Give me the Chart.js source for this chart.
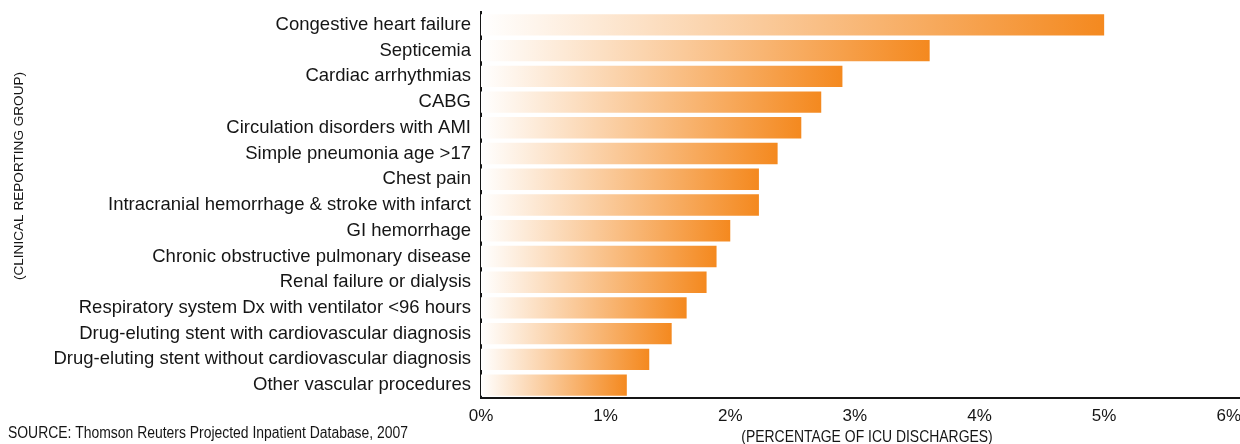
<!DOCTYPE html>
<html>
<head>
<meta charset="utf-8">
<script src="https://cdn.jsdelivr.net/npm/chart.js@4/dist/chart.umd.min.js"></script>
<style>
  html, body { margin: 0; padding: 0; background: #ffffff; }
  #wrap { width: 1240px; height: 444px; position: relative; }
</style>
</head>
<body>
<div id="wrap"><canvas id="c" width="1240" height="444"></canvas></div>
<script>
const categories = [
  "Congestive heart failure",
  "Septicemia",
  "Cardiac arrhythmias",
  "CABG",
  "Circulation disorders with AMI",
  "Simple pneumonia age >17",
  "Chest pain",
  "Intracranial hemorrhage & stroke with infarct",
  "GI hemorrhage",
  "Chronic obstructive pulmonary disease",
  "Renal failure or dialysis",
  "Respiratory system Dx with ventilator <96 hours",
  "Drug-eluting stent with cardiovascular diagnosis",
  "Drug-eluting stent without cardiovascular diagnosis",
  "Other vascular procedures"
];
const percentOfIcuDischarges = [5.0, 3.6, 2.9, 2.73, 2.57, 2.38, 2.23, 2.23, 2.0, 1.89, 1.81, 1.65, 1.53, 1.35, 1.17];
const xTickValues = [0, 1, 2, 3, 4, 5, 6];
const xAxisTitle = "(PERCENTAGE OF ICU DISCHARGES)";
const yAxisTitle = "(CLINICAL REPORTING GROUP)";
const sourceNote = "SOURCE: Thomson Reuters Projected Inpatient Database, 2007";

const ORANGE = '#F4891F';
const TEXT = '#151515';
const SANS = '"Liberation Sans", Arial, sans-serif';

function narrowText(c, text, x, y, size, sx, align) {
  c.save();
  c.translate(x, y);
  c.scale(sx, 1);
  c.font = size + 'px ' + SANS;
  c.textAlign = align;
  c.textBaseline = 'middle';
  c.fillText(text, 0, 0);
  c.restore();
}

const extraText = {
  id: 'extraText',
  afterDraw(chart) {
    const c = chart.ctx;
    c.save();
    c.fillStyle = TEXT;
    narrowText(c, sourceNote, 8, 434, 16, 0.87, 'left');
    narrowText(c, xAxisTitle, 867, 437, 16.5, 0.845, 'center');
    c.translate(19, 176);
    c.rotate(-Math.PI / 2);
    c.font = '13.6px ' + SANS;
    c.textAlign = 'center';
    c.textBaseline = 'middle';
    c.fillText(yAxisTitle, 0, 0);
    c.restore();
  }
};

new Chart(document.getElementById('c'), {
  type: 'bar',
  data: {
    labels: categories,
    datasets: [{
      data: percentOfIcuDischarges,
      borderWidth: 0,
      categoryPercentage: 1,
      barPercentage: 0.83,
      backgroundColor: (ctx) => {
        const chart = ctx.chart;
        const xs = chart.scales && chart.scales.x;
        if (!chart.chartArea || !xs || ctx.raw === undefined) return ORANGE;
        const x0 = xs.getPixelForValue(0);
        const x1 = xs.getPixelForValue(ctx.raw);
        if (!isFinite(x0) || !isFinite(x1) || x1 <= x0) return ORANGE;
        const g = chart.ctx.createLinearGradient(x0, 0, x1, 0);
        g.addColorStop(0, '#FFFFFF');
        g.addColorStop(1, ORANGE);
        return g;
      }
    }]
  },
  options: {
    indexAxis: 'y',
    responsive: false,
    animation: false,
    devicePixelRatio: 1,
    layout: { padding: { top: 12, right: 0, bottom: 0, left: 0 } },
    plugins: { legend: { display: false }, tooltip: { enabled: false } },
    scales: {
      x: {
        type: 'linear',
        min: 0,
        max: 6.09,
        afterBuildTicks: (scale) => { scale.ticks = xTickValues.map(v => ({ value: v })); },
        afterFit: (scale) => { scale.height = 46; scale.paddingLeft = 0; scale.paddingRight = 0; },
        grid: { display: false, drawTicks: false },
        border: { display: true, color: TEXT, width: 2 },
        ticks: {
          padding: 8,
          color: TEXT,
          font: { family: SANS, size: 17 },
          callback: (v) => v + '%',
          maxRotation: 0,
          autoSkip: false
        }
      },
      y: {
        afterFit: (scale) => { scale.width = 481; scale.paddingTop = 0; scale.paddingBottom = 0; },
        grid: { display: false, drawTicks: false },
        border: { display: true, color: TEXT, width: 2 },
        ticks: {
          padding: 10,
          color: TEXT,
          autoSkip: false,
          font: { family: SANS, size: 18.5 }
        }
      }
    }
  },
  plugins: [extraText]
});
</script>
</body>
</html>
